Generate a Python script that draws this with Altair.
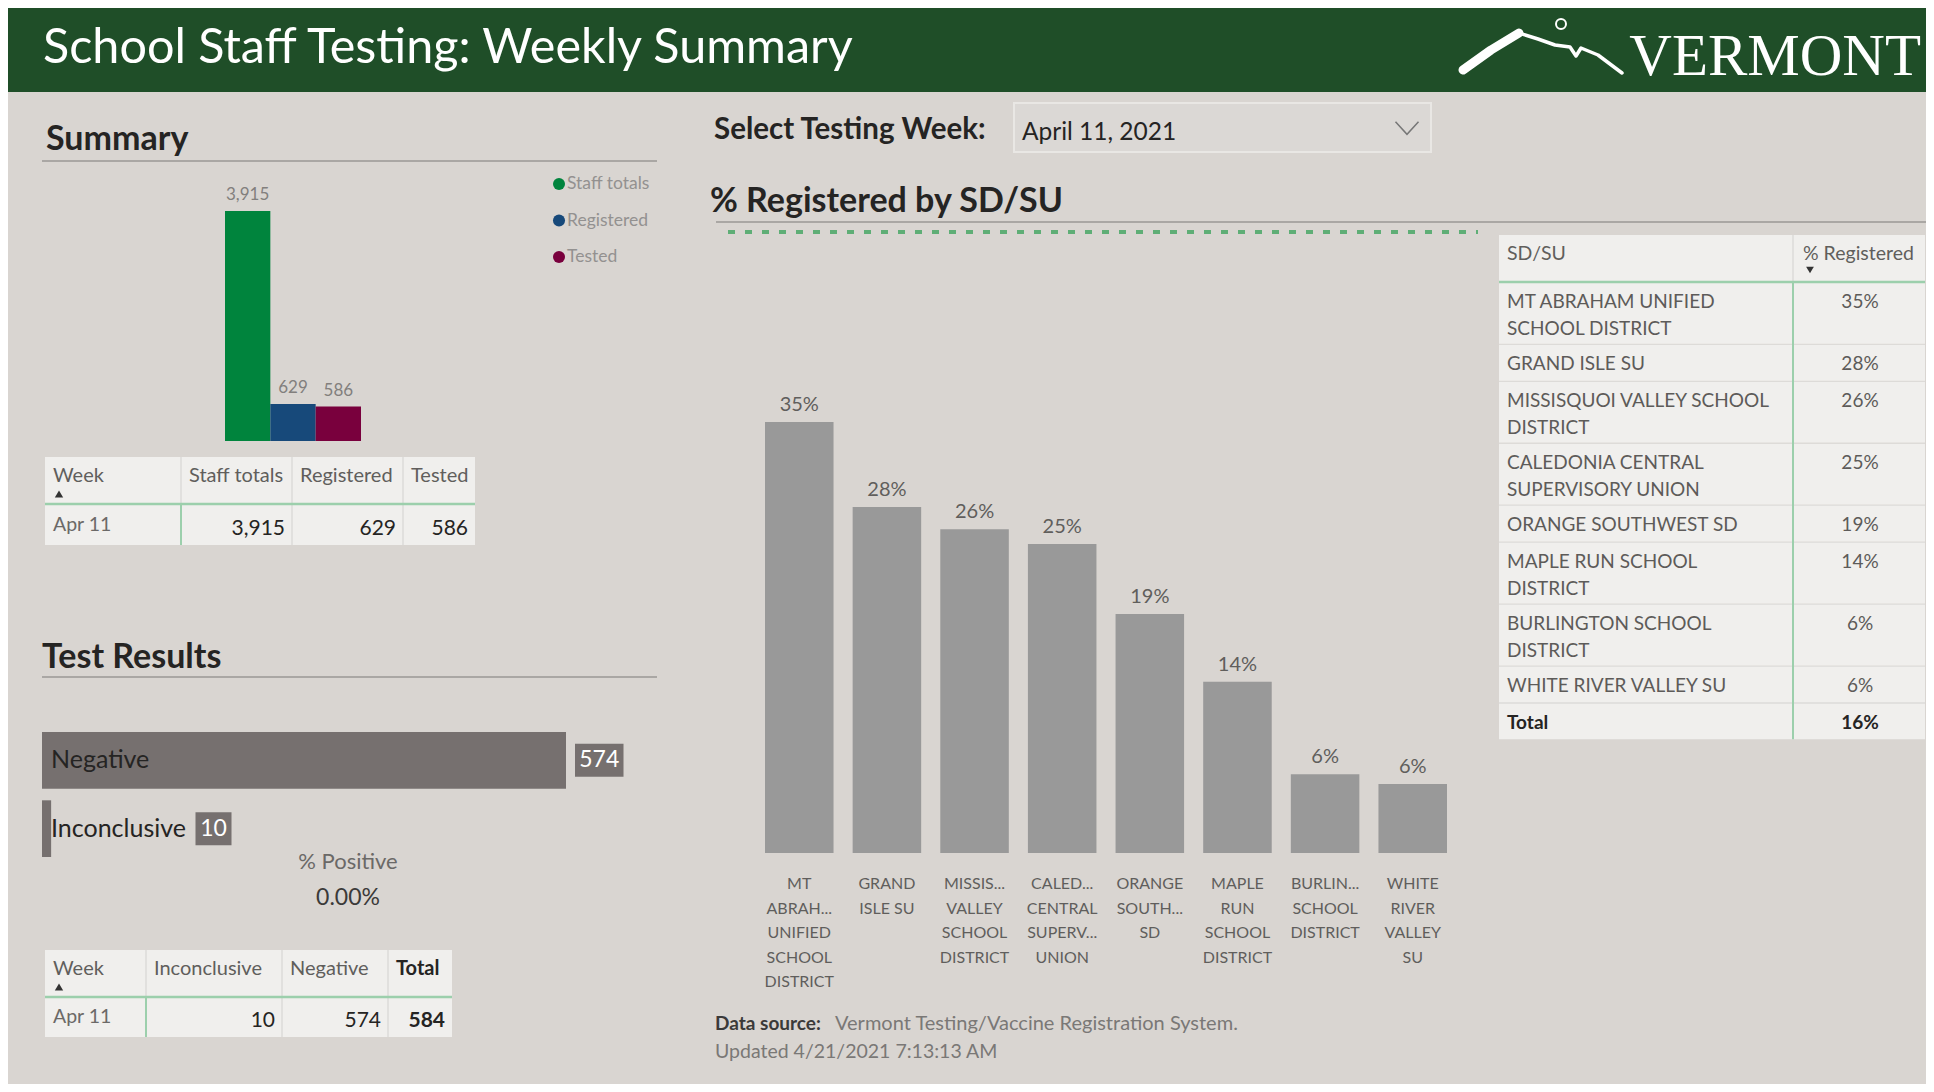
import textwrap
import altair as alt
import pandas as pd

# ------------------------------------------------------------------ data
week_start = ["2021-04-11"]
summary_measures = ["Staff totals", "Registered", "Tested"]
summary_values = [3915, 629, 586]

result_cats = ["Negative", "Inconclusive"]
result_values = [574, 10]
positive_count = 0

sdsu_names = [
    "MT ABRAHAM UNIFIED SCHOOL DISTRICT",
    "GRAND ISLE SU",
    "MISSISQUOI VALLEY SCHOOL DISTRICT",
    "CALEDONIA CENTRAL SUPERVISORY UNION",
    "ORANGE SOUTHWEST SD",
    "MAPLE RUN SCHOOL DISTRICT",
    "BURLINGTON SCHOOL DISTRICT",
    "WHITE RIVER VALLEY SU",
]
sdsu_axis_labels = [
    "MT|ABRAH...|UNIFIED|SCHOOL|DISTRICT",
    "GRAND|ISLE SU",
    "MISSIS...|VALLEY|SCHOOL|DISTRICT",
    "CALED...|CENTRAL|SUPERV...|UNION",
    "ORANGE|SOUTH...|SD",
    "MAPLE|RUN|SCHOOL|DISTRICT",
    "BURLIN...|SCHOOL|DISTRICT",
    "WHITE|RIVER|VALLEY|SU",
]
sdsu_pct = [35.0, 28.1, 26.3, 25.1, 19.4, 13.9, 6.4, 5.6]

source_text = "Vermont Testing/Vaccine Registration System."
updated_text = "Updated 4/21/2021 7:13:13 AM"

# ------------------------------------------------------------------ style
FONT = "Lato"
OFF = 8
W, H = 1918, 1076
BG = "#d9d5d1"
HEADER_GREEN = "#1f4e28"
DARK = "#252423"
GREY_TXT = "#605e5c"
CELL = "#f0efed"
GREEN_LINE = "#9ccfac"
LIGHT_LINE = "#dddbd8"
summary_colors = ["#00843d", "#17497a", "#79003d"]
BAR_GREY = "#999999"
RESULT_GREY = "#76706f"


def P(v):
    return v - OFF


one = pd.DataFrame({"k": [0]})


def text_at(s, x, y, size, color, weight="normal", align="left",
            font=FONT, baseline="alphabetic"):
    return alt.Chart(one).mark_text(
        text=s, font=font, fontSize=size, color=color, fontWeight=weight,
        align=align, baseline=baseline
    ).encode(x=alt.value(P(x)), y=alt.value(P(y)))


def rect_at(x0, x1, y0, y1, fill, stroke=None, sw=0):
    kw = dict(fill=fill, opacity=1)
    if stroke:
        kw.update(stroke=stroke, strokeWidth=sw)
    return alt.Chart(one).mark_rect(**kw).encode(
        x=alt.value(P(x0)), x2=alt.value(P(x1)),
        y=alt.value(P(y0)), y2=alt.value(P(y1)))


def rule_at(x0, y0, x1, y1, color, width=1.0, dash=None):
    kw = dict(color=color, strokeWidth=width)
    if dash:
        kw["strokeDash"] = dash
    return alt.Chart(one).mark_rule(**kw).encode(
        x=alt.value(P(x0)), x2=alt.value(P(x1)),
        y=alt.value(P(y0)), y2=alt.value(P(y1)))


def text_rows(rows, size, color, weight="normal", align="left",
              baseline="alphabetic", line_height=None):
    df = pd.DataFrame(rows, columns=["x", "y", "t"])
    df["x"] = df["x"].map(P)
    df["y"] = df["y"].map(P)
    mk = dict(font=FONT, fontSize=size, color=color, fontWeight=weight,
              align=align, baseline=baseline, lineBreak="|")
    if line_height:
        mk["lineHeight"] = line_height
    return alt.Chart(df).mark_text(**mk).encode(
        x=alt.X("x:Q", scale=None, axis=None),
        y=alt.Y("y:Q", scale=None, axis=None),
        text="t:N")


def marker(x, y, shape, size, color, filled=True, sw=1.0):
    return alt.Chart(one).mark_point(
        shape=shape, size=size, color=color, filled=filled, opacity=1,
        strokeWidth=sw
    ).encode(x=alt.value(P(x)), y=alt.value(P(y)))


week_ts = pd.Timestamp(week_start[0])
week_short = f"{week_ts.strftime('%b')} {week_ts.day}"
week_long = f"{week_ts.strftime('%B')} {week_ts.day}, {week_ts.year}"

layers = []

# ------------------------------------------------------------------ header
layers.append(rect_at(OFF, W + OFF, OFF, 92, HEADER_GREEN))
layers.append(text_at("School Staff Testing: Weekly Summary", 43, 63, 48.5, "white"))
layers.append(text_at("VERMONT", 1921, 75, 59, "white", align="right",
                      font="Liberation Serif"))
logo_a = pd.DataFrame({"x": [1463, 1491, 1519], "y": [70, 50, 33]})
logo_b = pd.DataFrame({"x": [1519, 1538, 1555, 1570, 1576, 1581, 1598, 1622],
                       "y": [33, 39, 45, 47, 56, 48, 55, 73]})
for df, sw in ((logo_a, 9), (logo_b, 3.5)):
    df = df.assign(x=df["x"].map(P), y=df["y"].map(P), i=range(len(df)))
    layers.append(alt.Chart(df).mark_line(color="white", strokeWidth=sw,
                                          strokeCap="round", strokeJoin="round").encode(
        x=alt.X("x:Q", scale=None, axis=None),
        y=alt.Y("y:Q", scale=None, axis=None), order="i:Q"))
layers.append(marker(1561, 24, "circle", 100, "white", filled=False, sw=2))

# ------------------------------------------------------------------ summary
layers.append(text_at("Summary", 46, 150, 34, DARK, weight="bold"))
layers.append(rule_at(42, 161, 657, 161, "#aaa7a4", 2))

sum_df = pd.DataFrame({"measure": summary_measures, "value": summary_values})
sum_df["lbl"] = sum_df["value"].map(lambda v: f"{v:,}")
sx = alt.Scale(type="band", domain=summary_measures, range=[P(225), P(361)],
               paddingInner=0, paddingOuter=0)
sy = alt.Scale(domain=[0, 4000], range=[P(441), P(441) - 235], nice=False)
scol = alt.Scale(domain=summary_measures, range=summary_colors)
layers.append(alt.Chart(sum_df).mark_bar().encode(
    x=alt.X("measure:N", scale=sx, axis=None),
    y=alt.Y("value:Q", scale=sy, axis=None),
    color=alt.Color("measure:N", scale=scol, legend=None)))
layers.append(alt.Chart(sum_df).mark_text(
    font=FONT, fontSize=17, color="#827f7d", dy=-11, baseline="alphabetic").encode(
    x=alt.X("measure:N", scale=sx, axis=None),
    y=alt.Y("value:Q", scale=sy, axis=None),
    text="lbl:N"))
ly = alt.Scale(type="point", domain=summary_measures, range=[P(184), P(257)], padding=0)
layers.append(alt.Chart(sum_df).mark_point(filled=True, size=145, opacity=1).encode(
    x=alt.value(P(559)),
    y=alt.Y("measure:N", scale=ly, axis=None),
    color=alt.Color("measure:N", scale=scol, legend=None)))
layers.append(alt.Chart(sum_df).mark_text(
    font=FONT, fontSize=17.5, color="#939190", align="left", baseline="middle").encode(
    x=alt.value(P(567)),
    y=alt.Y("measure:N", scale=ly, axis=None),
    text="measure:N"))


def small_table(cols, edges, top, mid, bot, week, values, bold_last=False):
    out = [rect_at(edges[0], edges[-1], top, bot, CELL)]
    for i, e in enumerate(edges[1:-1]):
        out.append(rule_at(e, top, e, mid - 1, LIGHT_LINE, 1.5))
        out.append(rule_at(e, mid + 1, e, bot, GREEN_LINE if i == 0 else LIGHT_LINE,
                           2 if i == 0 else 1.5))
    out.append(rule_at(edges[0], mid, edges[-1], mid, GREEN_LINE, 2.5))
    hdr = [(edges[i] + 8, top + 25, c) for i, c in enumerate(cols)]
    if bold_last:
        out.append(text_rows(hdr[:-1], 20, GREY_TXT))
        out.append(text_rows(hdr[-1:], 20, DARK, weight="bold"))
    else:
        out.append(text_rows(hdr, 20, GREY_TXT))
    out.append(marker(edges[0] + 14, top + 37, "triangle-up", 70, "#333333"))
    out.append(text_rows([(edges[0] + 8, bot - 14, week)], 19.5, "#6b6967"))
    vals = [(edges[i + 2] - 7, bot - 10, f"{v:,}") for i, v in enumerate(values)]
    if bold_last:
        out.append(text_rows(vals[:-1], 21, DARK, align="right"))
        out.append(text_rows(vals[-1:], 21, DARK, weight="bold", align="right"))
    else:
        out.append(text_rows(vals, 21, DARK, align="right"))
    return out


layers += small_table(["Week"] + summary_measures, [45, 181, 292, 403, 475],
                      457, 504, 545, week_short, summary_values)

# ------------------------------------------------------------------ test results
layers.append(text_at("Test Results", 42, 668, 34, DARK, weight="bold"))
layers.append(rule_at(42, 677, 657, 677, "#aaa7a4", 2))

res_max = max(result_values)
x_lo, x_hi = 42, 566
u_per_px = res_max / (x_hi - x_lo)
res_df = pd.DataFrame({"cat": result_cats, "value": result_values})
res_df["zero"] = 0
bar_end_px = res_df["value"] / u_per_px
cat_w_px = res_df["cat"].str.len() * 0.445 * 25
box_l_px = [max(b + 9, 9 + w + 11) for b, w in zip(bar_end_px, cat_w_px)]
box_w_px = [11 + 12.5 * len(str(v)) for v in result_values]
res_df["bl"] = [l * u_per_px for l in box_l_px]
res_df["br"] = [(l + w) * u_per_px for l, w in zip(box_l_px, box_w_px)]
res_df["bc"] = (res_df["bl"] + res_df["br"]) / 2
res_df["vt"] = res_df["value"].astype(str)
tx = alt.Scale(domain=[0, res_max], range=[P(x_lo), P(x_hi)], nice=False)
ty = alt.Scale(type="band", domain=result_cats, range=[P(732), P(857)],
               paddingInner=0.17, paddingOuter=0)
ry_enc = alt.Y("cat:N", scale=ty, axis=None)
layers.append(alt.Chart(res_df).mark_bar(color=RESULT_GREY).encode(
    x=alt.X("value:Q", scale=tx, axis=None), y=ry_enc))
layers.append(alt.Chart(res_df).mark_text(
    font=FONT, fontSize=25, color=DARK, align="left", baseline="middle", dx=9).encode(
    x=alt.X("zero:Q", scale=tx, axis=None), y=ry_enc, text="cat:N"))
layers.append(alt.Chart(res_df).mark_bar(color=RESULT_GREY, height=33).encode(
    x=alt.X("bl:Q", scale=tx, axis=None), x2="br:Q", y=ry_enc))
layers.append(alt.Chart(res_df).mark_text(
    font=FONT, fontSize=23, color="white", align="center", baseline="middle").encode(
    x=alt.X("bc:Q", scale=tx, axis=None), y=ry_enc, text="vt:N"))

tested_total = sum(result_values) + positive_count
pct_positive = positive_count / tested_total
layers.append(text_at("% Positive", 348, 869, 22, "#6b6967", align="center"))
layers.append(text_at(f"{pct_positive:.2%}", 348, 905, 23, "#3b3a39", align="center"))

res_map = dict(zip(result_cats, result_values))
layers += small_table(["Week", "Inconclusive", "Negative", "Total"],
                      [45, 146, 282, 388, 452], 950, 997, 1037, week_short,
                      [res_map["Inconclusive"], res_map["Negative"], tested_total],
                      bold_last=True)

# ------------------------------------------------------------------ week selector
layers.append(text_at("Select Testing Week:", 714, 139, 29.5, DARK, weight="bold"))
layers.append(rect_at(1014, 1431, 103, 152, "#dbd8d5", stroke="#e9e7e4", sw=2))
layers.append(text_at(week_long, 1022, 140, 24.5, DARK))
layers.append(marker(1407, 128, "M-1,-0.55L0,0.55L1,-0.55", 529, "#777777",
                     filled=False, sw=1.5))

# ------------------------------------------------------------------ % registered chart
layers.append(text_at("% Registered by SD/SU", 710, 212, 34, DARK, weight="bold"))
layers.append(rule_at(716, 222, 1934, 222, "#aaa7a4", 2))
layers.append(rule_at(728, 232, 1478, 232, "#5fae76", 4, dash=[7, 10]))

reg_df = pd.DataFrame({"label": sdsu_axis_labels, "pct": sdsu_pct})
reg_df["pl"] = reg_df["pct"].map(lambda v: f"{round(v)}%")
rx = alt.Scale(type="band", domain=sdsu_axis_labels, range=[P(765), P(1447)],
               paddingInner=0.218, paddingOuter=0)
ryy = alt.Scale(domain=[0, 35], range=[P(853), P(422)], nice=False)
rxe = alt.X("label:N", scale=rx, axis=None, sort=sdsu_axis_labels)
layers.append(alt.Chart(reg_df).mark_bar(color=BAR_GREY).encode(
    x=rxe, y=alt.Y("pct:Q", scale=ryy, axis=None)))
layers.append(alt.Chart(reg_df).mark_text(
    font=FONT, fontSize=20, color=GREY_TXT, dy=-11, baseline="alphabetic").encode(
    x=rxe, y=alt.Y("pct:Q", scale=ryy, axis=None), text="pl:N"))
layers.append(alt.Chart(reg_df).mark_text(
    font=FONT, fontSize=16, color=GREY_TXT, baseline="alphabetic", align="center",
    lineBreak="|", lineHeight=24.5).encode(
    x=rxe, y=alt.value(P(889)), text="label:N"))

# data source
layers.append(text_at("Data source:", 715, 1030, 19, "#3b3a39", weight="bold"))
layers.append(text_at(source_text, 835, 1030, 20, "#7a7876"))
layers.append(text_at(updated_text, 715, 1058, 19.5, "#7a7876"))

# ------------------------------------------------------------------ right table
total_pct = summary_values[1] / summary_values[0] * 100
names_wrapped = ["|".join(textwrap.wrap(n, 24)) for n in sdsu_names] + ["Total"]
pct_txt = [f"{round(v)}%" for v in sdsu_pct] + [f"{round(total_pct)}%"]
n_lines = [s.count("|") + 1 for s in names_wrapped]
tx0, tdiv, tx1 = 1499, 1793, 1925
h_top, h_bot = 235, 281
tops, bots = [], []
yy = 283
for nl in n_lines:
    hh = 10.75 + 25 * nl
    tops.append(yy)
    bots.append(yy + hh)
    yy += hh + 1.2
layers.append(rect_at(tx0, tx1, h_top, bots[-1], CELL))
for b in bots[:-1]:
    layers.append(rule_at(tx0, b + 0.6, tx1, b + 0.6, LIGHT_LINE, 1.3))
layers.append(rule_at(tdiv, h_top, tdiv, h_bot, LIGHT_LINE, 1.5))
layers.append(rule_at(tdiv, h_bot + 2, tdiv, bots[-1], GREEN_LINE, 2))
layers.append(rule_at(tx0, h_bot + 1, tx1, h_bot + 1, GREEN_LINE, 2.5))
layers.append(text_rows([(1507, 260, "SD/SU"), (1803, 260, "% Registered")], 19.5, GREY_TXT))
layers.append(marker(1810, 270, "triangle-down", 60, "#333333"))
body_names = [(1507, t + 25, s) for t, s in zip(tops[:-1], names_wrapped[:-1])]
body_vals = [(1860, t + 25, s) for t, s in zip(tops[:-1], pct_txt[:-1])]
layers.append(text_rows(body_names, 19, "#5d5b59", line_height=27))
layers.append(text_rows(body_vals, 19, "#5d5b59", align="center"))
layers.append(text_rows([(1507, tops[-1] + 25, names_wrapped[-1])], 19, DARK, weight="bold"))
layers.append(text_rows([(1860, tops[-1] + 25, pct_txt[-1])], 19, DARK,
                        weight="bold", align="center"))

chart = alt.layer(*layers).resolve_scale(
    x="independent", y="independent", color="independent"
).properties(
    width=W, height=H, background=BG, padding=0,
    autosize=alt.AutoSizeParams(type="none"),
).configure_view(stroke=None)

chart.save("out.html", embed_options={"renderer": "svg", "actions": False})
